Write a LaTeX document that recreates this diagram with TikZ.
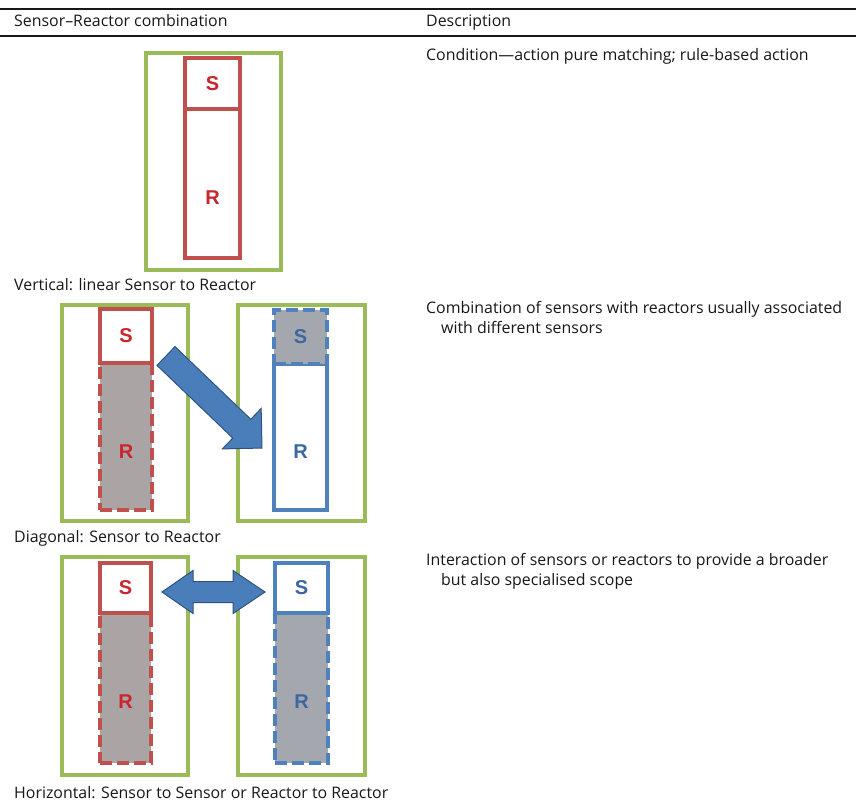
\documentclass[tikz,border=0pt]{standalone}
\usepackage{fontspec}
\setmainfont{Open Sans}
\newfontfamily\letterfont{Liberation Sans}
\usetikzlibrary{calc}

\definecolor{framegreen}{HTML}{9BBB59}
\definecolor{sensred}{HTML}{C0504D}
\definecolor{letterred}{HTML}{C9252C}
\definecolor{sensblue}{HTML}{4F81BD}
\definecolor{letterblue}{HTML}{3D67A0}
\definecolor{arrowfill}{HTML}{4A7EBB}
\definecolor{arrowedge}{HTML}{2F5282}
\definecolor{shadered}{HTML}{AAA4A4}
\definecolor{shadeblue}{HTML}{A4A7AE}
\definecolor{inkgray}{HTML}{1A1718}

\begin{document}
\begin{tikzpicture}[x=1pt, y=-1pt,
  frame/.style={draw=framegreen, line width=3.5pt, fill=white, inner sep=0pt},
  solidred/.style={draw=sensred, line width=3.5pt, fill=white, inner sep=0pt},
  dashred/.style={fill=shadered, inner sep=0pt, draw=sensred, line width=3.2pt, dash pattern=on 12pt off 5pt},
  solidblue/.style={draw=sensblue, line width=3.5pt, fill=white, inner sep=0pt},
  dashblue/.style={fill=shadeblue, inner sep=0pt, draw=sensblue, line width=3.2pt, dash pattern=on 12pt off 5pt},
  redletter/.style={text=letterred, font=\letterfont\bfseries\fontsize{20}{20}\selectfont},
  blueletter/.style={text=letterblue, font=\letterfont\bfseries\fontsize{20}{20}\selectfont},
  tabtext/.style={text=inkgray, font=\fontsize{15.9}{19}\selectfont, anchor=base west, inner sep=0pt},
  tabrule/.style={draw=inkgray, line width=2pt},
  blockarrow/.style={fill=arrowfill, draw=arrowedge, line width=1pt, line join=miter}
]
\useasboundingbox (0,0) rectangle (856,808);

% table rules
\coordinate (ruleAL) at (0,9);   \coordinate (ruleAR) at (856,9);
\coordinate (ruleBL) at (0,36);  \coordinate (ruleBR) at (856,36);
\draw[tabrule] (ruleAL) -- (ruleAR);
\draw[tabrule] (ruleBL) -- (ruleBR);

% header
\node[tabtext] (hcomb) at (14,27) {Sensor–Reactor combination};
\node[tabtext] (hdesc) at (426,27) {Description};

% descriptions
\node[tabtext] (desc1) at (426,60) {Condition—action pure matching; rule-based action};
\node[tabtext] (desc2) at (426,313) {Combination of sensors with reactors usually associated};
\node[tabtext] (desc2b) at (441,333) {with different sensors};
\node[tabtext] (desc3) at (426,565) {Interaction of sensors or reactors to provide a broader};
\node[tabtext] (desc3b) at (441,585) {but also specialised scope};

% captions
\node[tabtext] (cap1) at (14,290) {Vertical: linear Sensor to Reactor};
\node[tabtext] (cap2) at (14,542) {Diagonal: Sensor to Reactor};
\node[tabtext] (cap3) at (14,798) {Horizontal: Sensor to Sensor or Reactor to Reactor};

% ---- vertical: linear sensor to reactor
\node[frame, minimum width=135pt, minimum height=217pt] (vf) at (213.5,161.5) {};
\node[solidred, minimum width=55pt, minimum height=149pt] (vr) at (212.5,183.5) {};
\node[solidred, minimum width=55pt, minimum height=51pt] (vs) at (212.5,83.5) {};
\node[redletter] (vsl) at (vs.center) {S};
\node[redletter] (vrl) at ($(vr.center)+(0,14)$) {R};

% ---- diagonal: sensor to reactor
\node[frame, minimum width=126pt, minimum height=216pt] (df1) at (125,413) {};
\node[frame, minimum width=127pt, minimum height=216pt] (df2) at (301.5,413) {};
\node[dashred, minimum width=52pt, minimum height=147pt] (dr1) at (126,436.5) {};
\node[solidred, minimum width=52pt, minimum height=54pt] (ds1) at (126,336) {};
\node[solidblue, minimum width=53pt, minimum height=146pt] (dr2) at (300.5,437) {};
\node[dashblue, minimum width=53pt, minimum height=54pt] (ds2) at (300.5,337) {};
\node[redletter] (ds1l) at (ds1.center) {S};
\node[redletter] (dr1l) at ($(dr1.center)+(0,15)$) {R};
\node[blueletter] (ds2l) at (ds2.center) {S};
\node[blueletter] (dr2l) at ($(dr2.center)+(0,15)$) {R};

% block arrow from the sensor down to the reactor
\coordinate (dtail) at (166,356);
\coordinate (dtip) at (262,448);
\begin{scope}[shift={(dtail)}, rotate=-43.8]
  \fill[blockarrow] (0,-13) -- (105,-13) -- (105,-28) -- (133,0)
        -- (105,28) -- (105,13) -- (0,13) -- cycle;
\end{scope}

% ---- horizontal: sensor to sensor or reactor to reactor
\node[frame, minimum width=126pt, minimum height=218pt] (hf1) at (125,666) {};
\node[frame, minimum width=127pt, minimum height=218pt] (hf2) at (301.5,666) {};
\node[dashred, minimum width=51pt, minimum height=150pt] (hr1) at (125.5,688) {};
\node[solidred, minimum width=51pt, minimum height=50pt] (hs1) at (125.5,588) {};
\node[dashblue, minimum width=53pt, minimum height=150pt] (hr2) at (301.5,688) {};
\node[solidblue, minimum width=53pt, minimum height=50pt] (hs2) at (301.5,588) {};
\node[redletter] (hs1l) at (hs1.center) {S};
\node[redletter] (hr1l) at ($(hr1.center)+(0,14)$) {R};
\node[blueletter] (hs2l) at (hs2.center) {S};
\node[blueletter] (hr2l) at ($(hr2.center)+(0,14)$) {R};

% double block arrow between the two sensors
\coordinate (hleft) at (162,592);
\coordinate (hright) at (265,592);
\begin{scope}[shift={(hleft)}]
  \fill[blockarrow] (0,0) -- (31,-21.5) -- (31,-10.5) -- (71,-10.5) -- (71,-21.5)
        -- (103,0) -- (71,21.5) -- (71,10.5) -- (31,10.5) -- (31,21.5) -- cycle;
\end{scope}
\end{tikzpicture}
\end{document}
